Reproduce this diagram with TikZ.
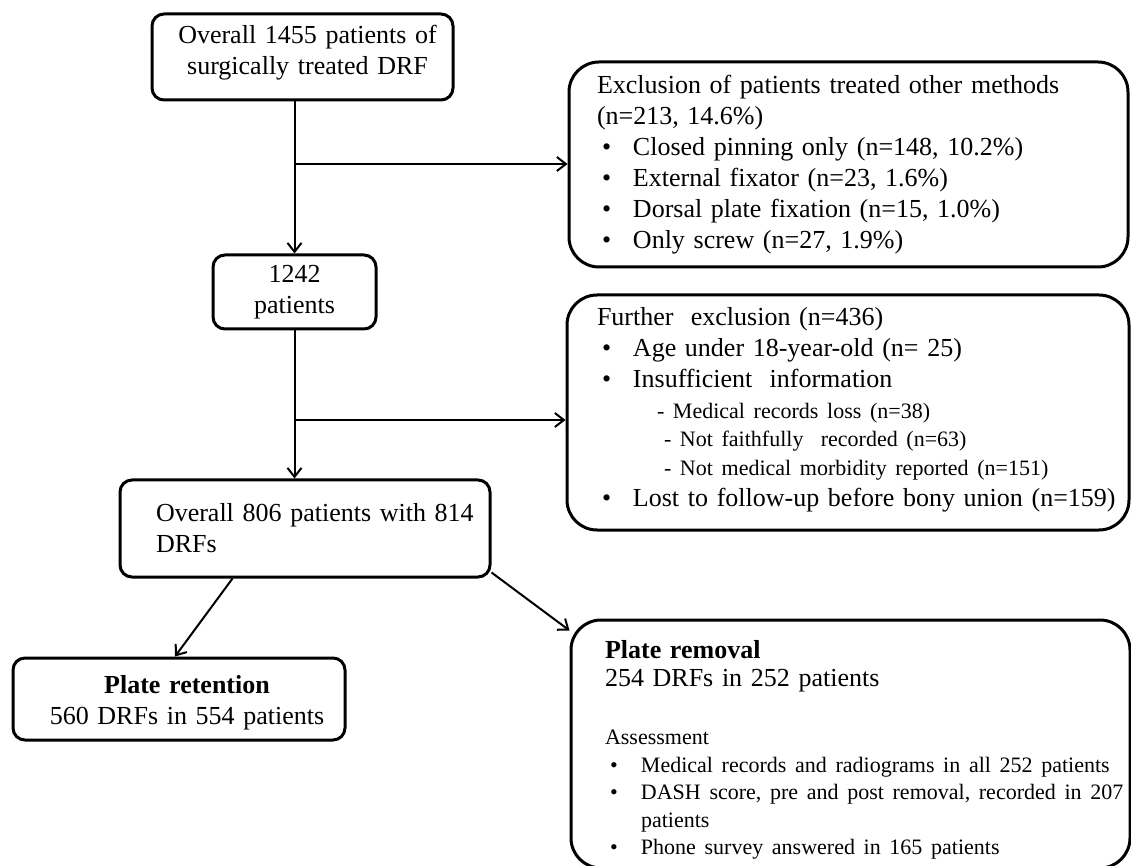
\documentclass[tikz,border=0pt]{standalone}
\usepackage{fontspec}
\setmainfont{Liberation Serif}
\usepackage{tikz}
\usetikzlibrary{arrows.meta}
\usetikzlibrary{calc}

\newcommand{\bitem}[1]{\mbox{\makebox[18pt][l]{\hspace{2.5pt}\textbullet}#1}}

\tikzset{
  box/.style={draw, line width=1.5pt, rounded corners=6pt, inner sep=0pt,
    font=\fontsize{13}{15.5}\selectfont},
  bigbox/.style={box, rounded corners=15pt, align=left},
  flow/.style={line width=1pt, -{Straight Barb[length=4.5pt,width=7pt]}},
}

\begin{document}
\begin{tikzpicture}[x=0.5pt, y=-0.5pt]
  \useasboundingbox (0,0) rectangle (1131,866);

  \node[box, minimum width=150.5pt, minimum height=43pt, text width=140pt, align=center] (start) at (302.5,57)
    {\hspace*{5pt}Overall 1455 patients of\\\hspace*{5pt}surgically treated DRF\par
     \vskip 4.5pt\hrule height 0pt};
  \node[box, minimum width=81.5pt, minimum height=37pt, align=center] (n1242) at (294.5,292)
    {1242\\patients};
  \node[box, minimum width=185pt, minimum height=48.5pt, text width=149pt, inner xsep=18pt,
    align=left] (n806) at (305,528.5)
    {\mbox{Overall 806 patients with 814}\\DRFs};

  \node[bigbox, minimum width=279.5pt, minimum height=102.5pt, text width=251.5pt,
    inner xsep=14pt] (excl) at (848.5,164.5)
    {Exclusion of patients treated other methods\\
     (n=213, 14.6\%)\\
     \bitem{Closed pinning only (n=148, 10.2\%)}\\
     \bitem{External fixator (n=23, 1.6\%)}\\
     \bitem{Dorsal plate fixation (n=15, 1.0\%)}\\
     \bitem{Only screw (n=27, 1.9\%)}};

  \node[bigbox, minimum width=281pt, minimum height=117.5pt, text width=251pt,
    inner xsep=15pt] (further) at (848,412.5)
    {Further\ \ exclusion (n=436)\\
     \bitem{Age under 18-year-old (n= 25)}\\
     \bitem{Insufficient\ \ information}\\
     {\fontsize{11}{15.5}\selectfont
     \hspace*{30pt}- Medical records loss (n=38)\\[-1.25pt]
     \hspace*{33.5pt}- Not faithfully\ \ recorded (n=63)\\[-1.25pt]
     \hspace*{33.5pt}- Not medical morbidity reported (n=151)}\\
     \bitem{Lost to follow-up before bony union (n=159)}\par
     \vskip 3pt\hrule height 0pt};

  \node[box, minimum width=166pt, minimum height=41pt, text width=150pt, align=center] (keep) at (179,699)
    {\hspace*{8pt}\rule{0pt}{13pt}\textbf{Plate retention}\\\hspace*{8pt}560 DRFs in 554 patients};

  \node[bigbox, minimum width=279.5pt, minimum height=124pt, text width=245.5pt,
    inner xsep=17pt] (removal) at (850.5,744)
    {\rule{0pt}{15pt}\textbf{Plate removal}\\[-1.5pt]
     254 DRFs in 252 patients\par
     \vspace{15.25pt}
     {\fontsize{11}{13.75}\selectfont
     Assessment\\
     \bitem{Medical records and radiograms in all 252 patients}\\
     \bitem{DASH score, pre and post removal, recorded in 207}\\
     \hspace*{18pt}patients\\
     \bitem{Phone survey answered in 165 patients}\par}};

  \coordinate (cut1) at (294,164);
  \coordinate (cut2) at (294.5,420);

  \draw[flow] (start.south -| n1242.north) -- (n1242.north);
  \draw[flow] (cut1) -- (cut1 -| excl.west);
  \draw[flow] (n1242.south) -- (n1242.south |- n806.north);
  \draw[flow] (cut2) -- (cut2 -| further.west);
  \draw[flow] ([xshift=57pt]n806.south west) -- ([xshift=-2pt]keep.north);
  \draw[flow] ([yshift=3pt]n806.south east) -- ([yshift=-6pt]removal.north west);

\end{tikzpicture}
\end{document}
